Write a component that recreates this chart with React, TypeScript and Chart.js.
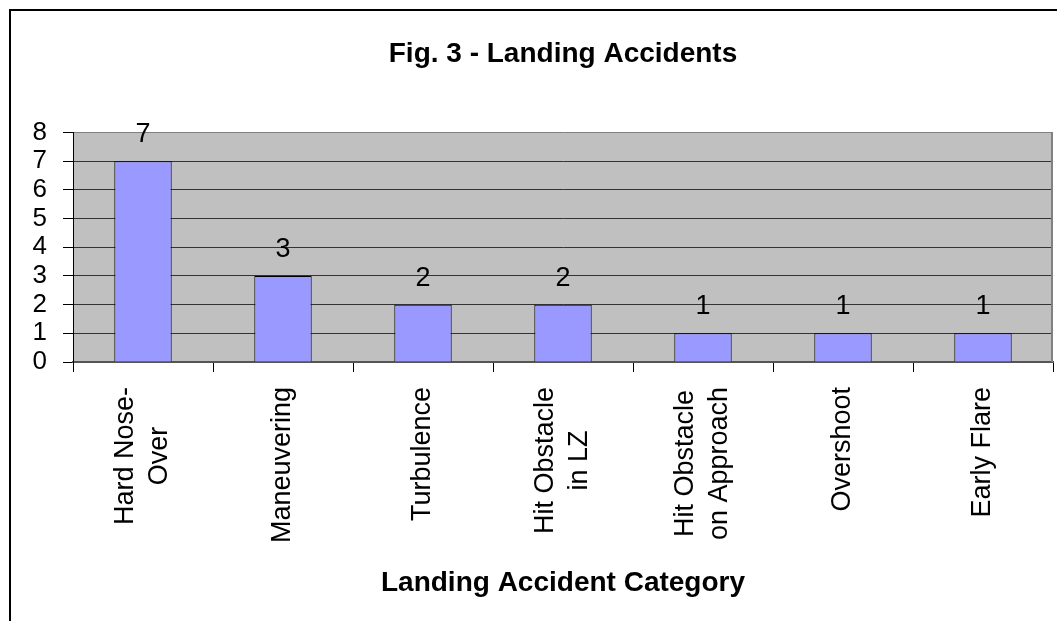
import React, { useEffect, useRef } from 'react';
import { Chart, registerables } from 'chart.js';

Chart.register(...registerables);

// ---- data ----
const categories: string[][] = [
  ['Hard Nose-', 'Over'],
  ['Maneuvering'],
  ['Turbulence'],
  ['Hit Obstacle', 'in LZ'],
  ['Hit Obstacle', 'on Approach'],
  ['Overshoot'],
  ['Early Flare'],
];
const accidents: number[] = [7, 3, 2, 2, 1, 1, 1];
const yTicks: number[] = [0, 1, 2, 3, 4, 5, 6, 7, 8];
const chartTitle = 'Fig. 3 - Landing Accidents';
const xAxisTitle = 'Landing Accident Category';

const FONT = "'Liberation Sans', Arial, Helvetica, sans-serif";

const frameAndPlot = {
  id: 'frameAndPlot',
  beforeDraw(chart: any) {
    const { ctx, chartArea: a } = chart;
    ctx.save();
    ctx.fillStyle = '#C0C0C0';
    ctx.fillRect(a.left, a.top, a.right - a.left, a.bottom - a.top);
    ctx.restore();
  },
  beforeDatasetsDraw(chart: any) {
    const { ctx, chartArea: a } = chart;
    ctx.save();
    ctx.strokeStyle = '#808080';
    ctx.lineWidth = 2;
    ctx.beginPath();
    ctx.moveTo(a.right - 1, a.top);
    ctx.lineTo(a.right - 1, a.bottom);
    ctx.stroke();
    ctx.restore();
  },
  afterDraw(chart: any) {
    const { ctx } = chart;
    ctx.save();
    ctx.strokeStyle = '#000';
    ctx.lineWidth = 2;
    ctx.strokeRect(10, 10, 1200, 800);
    ctx.restore();
  },
};

const valueLabels = {
  id: 'valueLabels',
  afterDatasetsDraw(chart: any) {
    const { ctx } = chart;
    const meta = chart.getDatasetMeta(0);
    ctx.save();
    ctx.font = `27px ${FONT}`;
    ctx.fillStyle = '#000';
    ctx.textAlign = 'center';
    ctx.textBaseline = 'alphabetic';
    meta.data.forEach((bar: any, i: number) => {
      ctx.fillText(String(accidents[i]), bar.x, bar.y - 19);
    });
    ctx.restore();
  },
};

const rotatedCategoryLabels = {
  id: 'rotatedCategoryLabels',
  afterDraw(chart: any) {
    const { ctx, chartArea: a } = chart;
    const xs = chart.scales.x;
    const lh = 34;
    ctx.save();
    ctx.font = `27px ${FONT}`;
    ctx.fillStyle = '#000';
    ctx.textAlign = 'center';
    ctx.textBaseline = 'middle';
    categories.forEach((lines, i) => {
      const x = xs.getPixelForValue(i);
      const blockW = Math.max(...lines.map((l) => ctx.measureText(l).width));
      ctx.save();
      ctx.translate(x, a.bottom + 25);
      ctx.rotate(-Math.PI / 2);
      lines.forEach((line, j) => {
        ctx.fillText(line, -blockW / 2, (j - (lines.length - 1) / 2) * lh);
      });
      ctx.restore();
    });
    ctx.restore();
  },
};

export default function App() {
  const ref = useRef<HTMLCanvasElement>(null);
  useEffect(() => {
    const chart = new Chart(ref.current as HTMLCanvasElement, {
      type: 'bar',
      data: {
        labels: categories,
        datasets: [
          {
            label: 'Landing Accidents',
            data: accidents,
            backgroundColor: '#9999FF',
            borderColor: '#000000',
            borderWidth: 1,
            barPercentage: 0.41,
            categoryPercentage: 1.0,
          },
        ],
      },
      options: {
        animation: false,
        responsive: false,
        devicePixelRatio: 1,
        layout: { padding: { top: 10, left: 0, right: 4, bottom: 0 } },
        plugins: {
          legend: { display: false },
          tooltip: { enabled: false },
          title: {
            display: true,
            text: chartTitle,
            fullSize: false,
            color: '#000',
            font: { family: FONT, size: 28, weight: 'bold' },
            padding: { top: 27, bottom: 62 },
          },
        },
        scales: {
          x: {
            type: 'category',
            offset: true,
            grid: {
              display: true,
              drawOnChartArea: false,
              drawTicks: true,
              tickLength: 10,
              tickColor: '#000',
              color: '#000',
              offset: true,
            },
            border: { display: true, color: '#555', width: 2 },
            ticks: { display: false },
            title: {
              display: true,
              text: xAxisTitle,
              color: '#000',
              font: { family: FONT, size: 28, weight: 'bold' },
              padding: { top: 0, bottom: 21 },
            },
            afterFit: (s: any) => {
              s.height = 259;
            },
          },
          y: {
            min: 0,
            max: 8,
            afterBuildTicks: (s: any) => {
              s.ticks = yTicks.map((v) => ({ value: v }));
            },
            grid: {
              color: (c: any) => (c.tick && c.tick.value === 8 ? '#808080' : c.tick && c.tick.value === 0 ? '#555' : '#333'),
              tickColor: '#000',
              tickLength: 10,
              lineWidth: 1,
            },
            border: { display: true, color: '#000', width: 1 },
            ticks: {
              color: '#000',
              font: { family: FONT, size: 26 },
              padding: 16,
              autoSkip: false,
            },
            afterFit: (s: any) => {
              s.width = 73;
            },
          },
        },
      } as any,
      plugins: [frameAndPlot, valueLabels, rotatedCategoryLabels],
    });
    return () => chart.destroy();
  }, []);

  return (
    <div style={{ position: 'fixed', left: 0, top: 0, width: 1057, height: 621, background: '#fff' }}>
      <canvas ref={ref} width={1057} height={621} style={{ display: 'block', width: 1057, height: 621 }} />
    </div>
  );
}
